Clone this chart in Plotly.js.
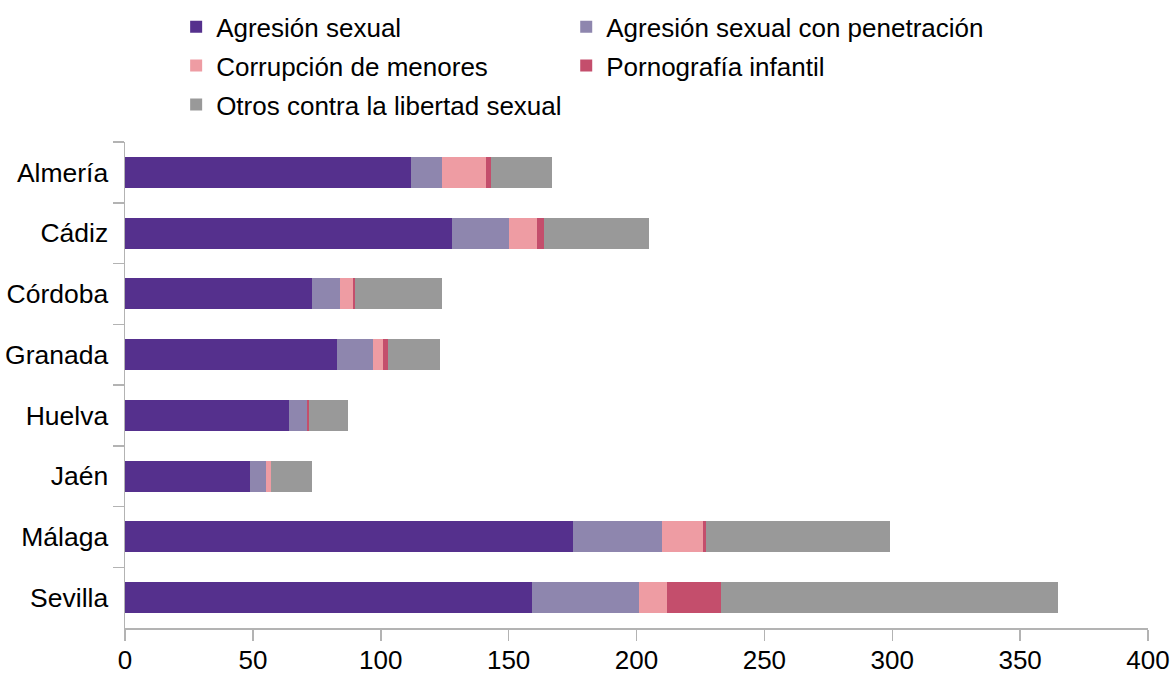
<!DOCTYPE html>
<html>
<head>
<meta charset="utf-8">
<script src="https://cdn.plot.ly/plotly-3.0.1.min.js"></script>
<style>html,body{margin:0;padding:0;background:#fff;}#chart{width:1172px;height:675px;}</style>
</head>
<body>
<div id="chart"></div>
<script>
const provinces = ["Almería", "Cádiz", "Córdoba", "Granada", "Huelva", "Jaén", "Málaga", "Sevilla"];
const seriesNames = ["Agresión sexual", "Agresión sexual con penetración", "Corrupción de menores", "Pornografía infantil", "Otros contra la libertad sexual"];
const agresion = [112, 128, 73, 83, 64, 49, 175, 159];
const penetracion = [12, 22, 11, 14, 7, 6, 35, 42];
const corrupcion = [17, 11, 5, 4, 0, 2, 16, 11];
const pornografia = [2, 3, 1, 2, 1, 0, 1, 21];
const otros = [24, 41, 34, 20, 15, 16, 72, 132];
const xTicks = [0, 50, 100, 150, 200, 250, 300, 350, 400];

const colors = ["#55308d", "#8e86ae", "#ee9ca3", "#c44e6c", "#999999"];
const seriesValues = [agresion, penetracion, corrupcion, pornografia, otros];
const legendFor = ["legend", "legend2", "legend", "legend2", "legend"];

const font = {family: "Liberation Sans, Arial, sans-serif", size: 26, color: "#000"};

const traces = seriesValues.map((vals, i) => ({
  type: "bar",
  orientation: "h",
  name: seriesNames[i],
  legend: legendFor[i],
  legendgroup: "g" + i,
  y: provinces,
  x: vals,
  marker: {color: colors[i], line: {width: 0}},
  hoverinfo: "x+y+name"
}));

const legendBase = {
  orientation: "v",
  xanchor: "left",
  yref: "container",
  y: 0.995,
  yanchor: "top",
  font: font,
  traceorder: "grouped",
  tracegroupgap: 2,
  bgcolor: "rgba(0,0,0,0)",
  itemclick: false
};

const layout = {
  width: 1172,
  height: 675,
  barmode: "stack",
  bargap: 0.49,
  paper_bgcolor: "#fff",
  plot_bgcolor: "#fff",
  font: font,
  margin: {l: 125, r: 24, t: 142, b: 47, pad: 0},
  showlegend: true,
  legend: Object.assign({}, legendBase, {x: 0.05}),
  legend2: Object.assign({}, legendBase, {x: 0.4313}),
  xaxis: {
    range: [0, 400],
    tickvals: xTicks,
    ticktext: xTicks.map(String),
    showgrid: false,
    zeroline: false,
    showline: true,
    linecolor: "#b3b3b3",
    linewidth: 1.5,
    ticks: "outside",
    ticklen: 11,
    tickcolor: "#b3b3b3",
    tickwidth: 1.5,
    tickfont: font,
    ticklabelstandoff: -3
  },
  yaxis: {
    type: "category",
    categoryorder: "array",
    categoryarray: provinces,
    autorange: "reversed",
    showgrid: false,
    zeroline: false,
    showline: true,
    linecolor: "#b3b3b3",
    linewidth: 1.5,
    ticks: "outside",
    tickson: "boundaries",
    ticklen: 11,
    tickcolor: "#b3b3b3",
    tickwidth: 1.5,
    tickfont: Object.assign({}, font, {size: 26.5}),
    ticklabelstandoff: 10
  }
};

Plotly.newPlot("chart", traces, layout, {displayModeBar: false, staticPlot: true});
</script>
</body>
</html>
